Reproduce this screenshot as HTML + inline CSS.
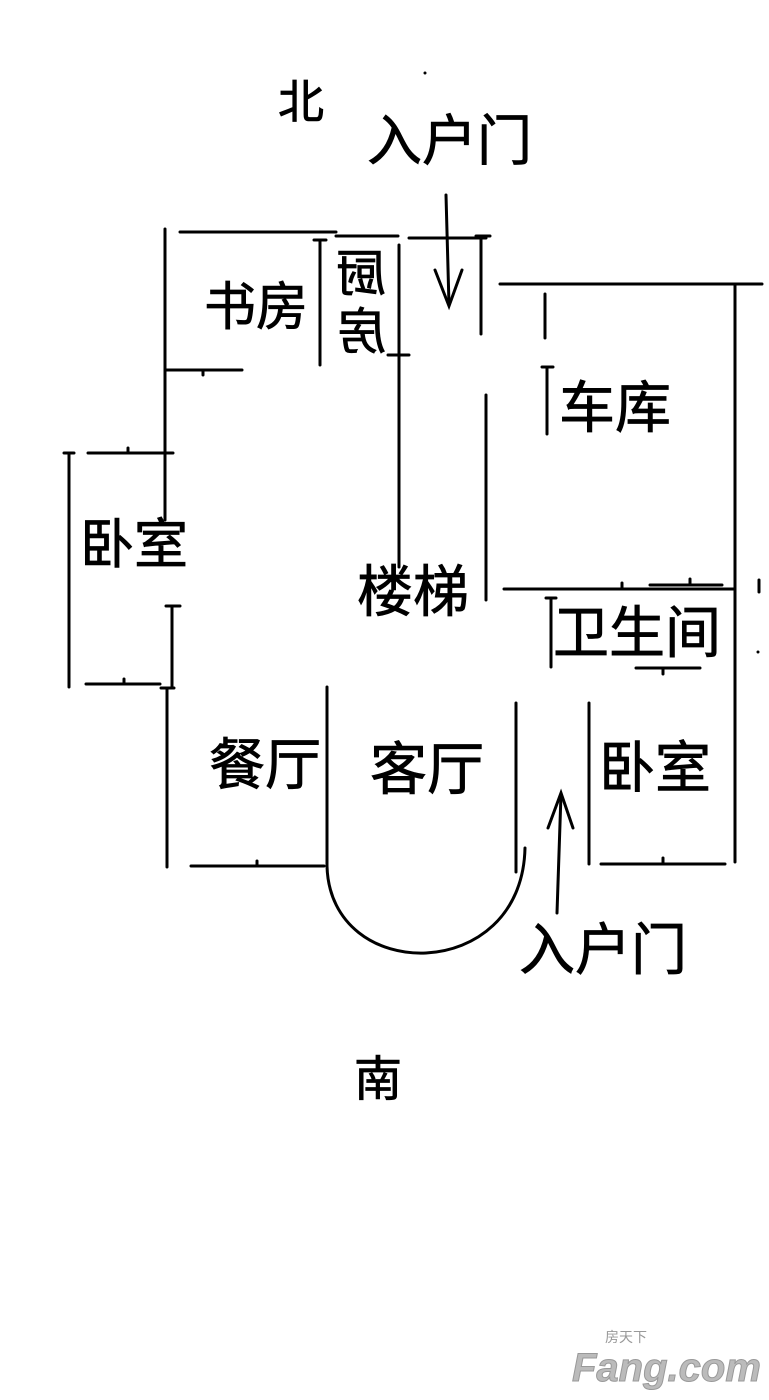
<!DOCTYPE html>
<html><head><meta charset="utf-8"><style>
html,body{margin:0;padding:0;background:#fff;width:769px;height:1400px;overflow:hidden}
text{font-family:"Liberation Sans","Noto Sans CJK SC",sans-serif;fill:#000}
</style></head><body>
<svg width="769" height="1400" viewBox="0 0 769 1400" xmlns="http://www.w3.org/2000/svg">
<g stroke="#000" stroke-width="3" fill="none" stroke-linecap="round">
<line x1="180" y1="232" x2="336" y2="232"/>
<line x1="336" y1="236" x2="398" y2="236"/>
<line x1="409" y1="238" x2="486" y2="238"/>
<line x1="165" y1="229" x2="165" y2="520"/>
<line x1="150" y1="453" x2="173" y2="453"/>
<line x1="165" y1="370" x2="242" y2="370"/><line x1="203" y1="370" x2="203" y2="375"/>
<line x1="320" y1="240" x2="320" y2="365"/><line x1="314" y1="240" x2="326" y2="240"/>
<line x1="399" y1="245" x2="399" y2="567"/><line x1="388" y1="355" x2="409" y2="355"/>
<line x1="446" y1="195" x2="449" y2="305"/>
<polyline points="435,270 449,306 462,270"/>
<line x1="481" y1="236" x2="481" y2="334"/><line x1="476" y1="236" x2="490" y2="236"/>
<line x1="500" y1="284" x2="762" y2="284"/>
<line x1="735" y1="284" x2="735" y2="862"/>
<line x1="545" y1="294" x2="545" y2="338"/>
<line x1="547" y1="367" x2="547" y2="434"/><line x1="542" y1="367" x2="553" y2="367"/>
<line x1="486" y1="395" x2="486" y2="600"/>
<line x1="504" y1="589" x2="735" y2="589"/><line x1="622" y1="583" x2="622" y2="589"/>
<line x1="650" y1="585" x2="722" y2="585"/><line x1="690" y1="579" x2="690" y2="585"/>
<line x1="759" y1="580" x2="759" y2="592"/>
<line x1="551" y1="598" x2="551" y2="667"/><line x1="546" y1="598" x2="556" y2="598"/>
<line x1="636" y1="668" x2="700" y2="668"/><line x1="663" y1="668" x2="663" y2="674"/>
<line x1="69" y1="453" x2="69" y2="687"/><line x1="64" y1="453" x2="74" y2="453"/>
<line x1="88" y1="453" x2="165" y2="453"/><line x1="128" y1="448" x2="128" y2="453"/>
<line x1="86" y1="684" x2="160" y2="684"/><line x1="124" y1="679" x2="124" y2="684"/>
<line x1="172" y1="606" x2="172" y2="688"/><line x1="166" y1="606" x2="180" y2="606"/>
<line x1="167" y1="688" x2="167" y2="867"/><line x1="161" y1="688" x2="174" y2="688"/>
<line x1="191" y1="866" x2="324" y2="866"/><line x1="257" y1="861" x2="257" y2="866"/>
<line x1="327" y1="687" x2="327" y2="866"/>
<path d="M327,866 C330,985 522,985 525,848"/>
<line x1="516" y1="703" x2="516" y2="872"/>
<line x1="557" y1="913" x2="561" y2="794"/>
<polyline points="548,828 561,793 573,828"/>
<line x1="589" y1="703" x2="589" y2="864"/>
<line x1="601" y1="864" x2="725" y2="864"/><line x1="663" y1="858" x2="663" y2="864"/>
</g>
<circle cx="758" cy="652" r="1.5" fill="#000"/>
<circle cx="425" cy="73" r="1.5" fill="#000"/>
<g font-size="50" dominant-baseline="central" stroke="#000" stroke-width="0.8">
<text x="278" y="102" font-size="46">北</text>
<text x="367" y="141" font-size="55">入户门</text>
<text x="204" y="308" font-size="52">书房</text>
<text x="559" y="408" font-size="56">车库</text>
<text x="80" y="545" font-size="54">卧室</text>
<text x="357" y="592" font-size="56">楼梯</text>
<text x="553" y="633" font-size="56">卫生间</text>
<text x="209" y="765" font-size="56">餐厅</text>
<text x="370" y="770" font-size="57">客厅</text>
<text x="599" y="768" font-size="56">卧室</text>
<text x="519" y="950" font-size="56">入户门</text>
<text x="354" y="1080" font-size="48">南</text>
</g>
<g font-size="50" dominant-baseline="central" stroke="#000" stroke-width="0.8">
<text transform="translate(386,274) scale(-1,1)">厨</text>
<text transform="translate(386,332) scale(-1,1)">房</text>
</g>
<g font-family="Liberation Sans,Noto Sans CJK SC,sans-serif">
<text x="605" y="1342" font-size="14" style="fill:#999">房天下</text>
<text x="572" y="1381" font-size="40" font-weight="bold" font-style="italic" style="fill:#bbb;stroke:#999;stroke-width:1">Fang.com</text>
</g>
</svg>
</body></html>
